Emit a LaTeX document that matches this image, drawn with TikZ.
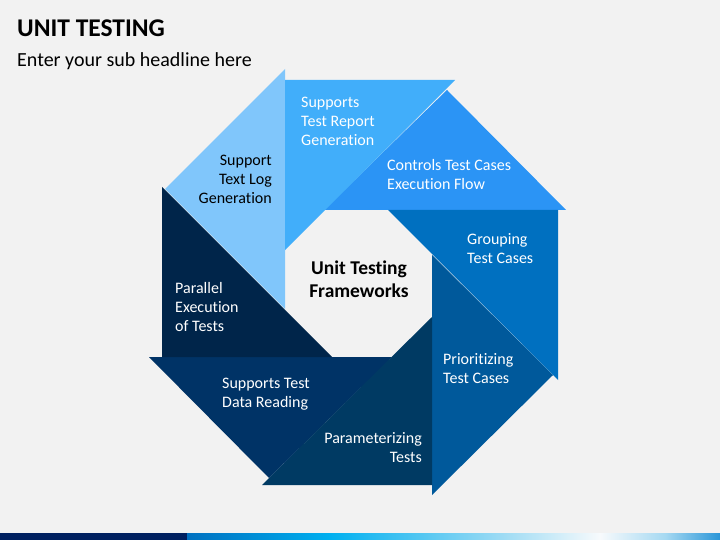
\documentclass[tikz,border=0pt]{standalone}
\usepackage{fontspec}
\setmainfont{Carlito}[Ligatures=NoCommon]
\definecolor{bg}{HTML}{F2F2F2}
\definecolor{cA}{HTML}{80C6FB}
\definecolor{cB}{HTML}{41AEFA}
\definecolor{cC}{HTML}{2B94F5}
\definecolor{cD}{HTML}{0070C0}
\definecolor{cE}{HTML}{00599B}
\definecolor{cF}{HTML}{003A63}
\definecolor{cG}{HTML}{003366}
\definecolor{cH}{HTML}{00254A}
\definecolor{barnavy}{HTML}{002060}
\definecolor{barb1}{HTML}{0070C0}
\definecolor{barb2}{HTML}{00B0F0}
\definecolor{barb3}{HTML}{A0DCF4}
\definecolor{barb4}{HTML}{F7FAFC}
\definecolor{barb5}{HTML}{A6D9F2}
\definecolor{barb6}{HTML}{2A96D8}
\tikzset{
  piece/.style={draw=none},
  lbl/.style={inner sep=0pt, text=white, font=\fontsize{16}{19}\selectfont},
  lblL/.style={lbl, align=left, anchor=base west},
  lblR/.style={lbl, align=right, anchor=base east},
}
\begin{document}
\begin{tikzpicture}[x=1pt,y=-1pt]
\useasboundingbox (0,0) rectangle (720,540);
\fill[bg] (0,0) rectangle (720,540);
% pieces
\fill[piece,cA] (285,69) -- (165,189) -- (285,309) -- cycle;
\fill[piece,cC] (447,90) -- (566,210) -- (324,210) -- cycle;
\fill[piece,cB] (285,80) -- (455,80) -- (285,250) -- cycle;
\fill[piece,cE] (432,255) -- (553,375) -- (432,495) -- cycle;
\fill[piece,cD] (388,210) -- (558,210) -- (558,380) -- cycle;
\fill[piece,cG] (149,357) -- (392,357) -- (269,478) -- cycle;
\fill[piece,cF] (432,317) -- (432,485) -- (262,485) -- cycle;
\fill[piece,cH] (162,187) -- (332,357) -- (162,357) -- cycle;
% labels (base = baseline of last line)
\node[lblR, text=black] (tA) at (272,204) {Support\\Text Log\\Generation};
\node[lblL] (tB) at (301,146) {Supports\\Test Report\\Generation};
\node[lblL] (tC) at (387,190) {Controls Test Cases\\Execution Flow};
\node[lblL] (tD) at (467,263) {Grouping\\Test Cases};
\node[lblL] (tE) at (443,383) {Prioritizing\\Test Cases};
\node[lblR] (tF) at (422,462) {Parameterizing\\Tests};
\node[lblL] (tG) at (222,407) {Supports Test\\Data Reading};
\node[lblL] (tH) at (175,331) {Parallel\\Execution\\of Tests};
\node[inner sep=0pt, align=center, font=\bfseries\fontsize{19.5}{23}\selectfont] (ctr) at (359,279.5) {Unit Testing\\Frameworks};
% titles
\node[inner sep=0pt, anchor=base west, font=\bfseries\fontsize{25.5}{30}\selectfont] (title) at (17,37) {UNIT TESTING};
\node[inner sep=0pt, anchor=base west, font=\fontsize{20}{24}\selectfont] (sub) at (17,67) {Enter your sub headline here};
% bottom bar
\fill[barnavy] (0,533) rectangle (187,540);
\shade[left color=barb1, right color=barb2] (187,533) rectangle (330,540);
\shade[left color=barb2, right color=barb3] (330,533) rectangle (505,540);
\shade[left color=barb3, right color=barb4] (505,533) rectangle (600,540);
\shade[left color=barb4, right color=barb5] (600,533) rectangle (665,540);
\shade[left color=barb5, right color=barb6] (665,533) rectangle (720,540);
\end{tikzpicture}
\end{document}
